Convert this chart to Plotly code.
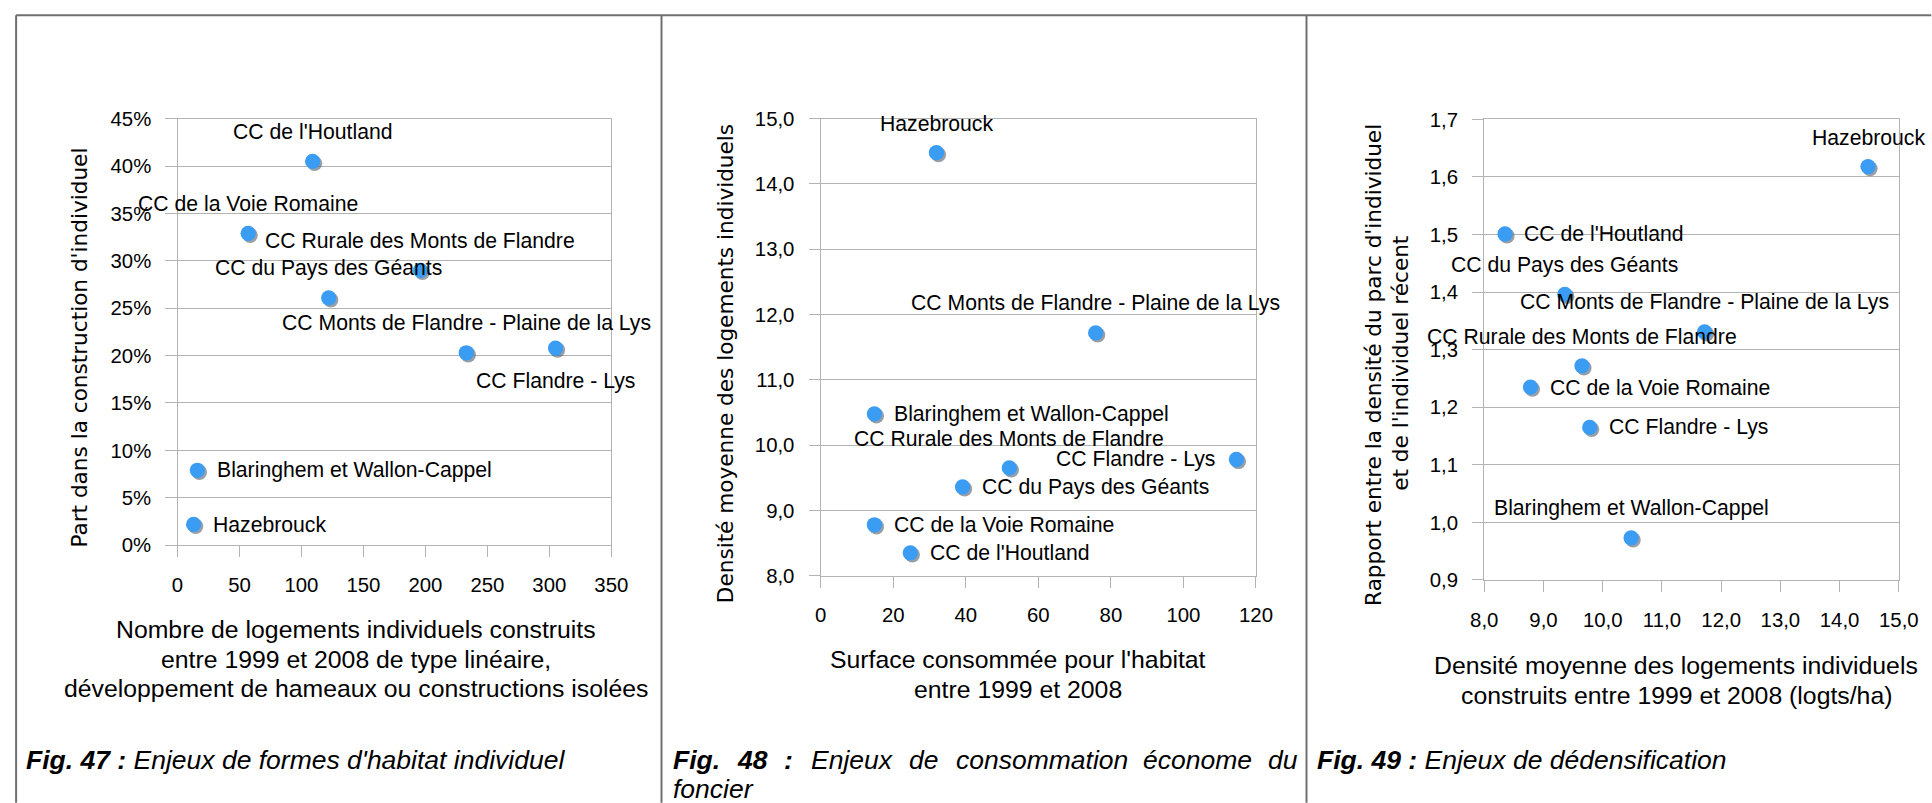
import plotly.graph_objects as go

# Target picture size, the screen scale observed on the page, body margin
PIC_W, PIC_H = 1932, 803
SX, SY = 0.986, 0.977
BODY = 8
DOC_W, DOC_H = round(PIC_W / SX), round(PIC_H / SY)
W, H = DOC_W - 2 * BODY, DOC_H - 2 * BODY
S = (SX + SY) / 2

# Territoires (même ordre dans les trois graphiques)
territoires = [
    "Hazebrouck",
    "CC Monts de Flandre - Plaine de la Lys",
    "Blaringhem et Wallon-Cappel",
    "CC Rurale des Monts de Flandre",
    "CC Flandre - Lys",
    "CC du Pays des Géants",
    "CC de la Voie Romaine",
    "CC de l'Houtland",
]

# Fig. 47
logements_lineaires = [13, 233, 16, 196, 305, 122, 57, 109]
part_individuel = [0.022, 0.203, 0.079, 0.290, 0.208, 0.261, 0.329, 0.405]

# Fig. 48
surface_habitat = [31.9, 75.8, 14.8, 52.0, 114.6, 39.1, 14.8, 24.7]
densite_individuel = [14.48, 11.72, 10.48, 9.65, 9.78, 9.36, 8.78, 8.35]

# Fig. 49
rapport_densite = [1.618, 1.331, 0.973, 1.272, 1.165, 1.396, 1.235, 1.501]

# placement des étiquettes
place_47 = ["right", "above", "right", "above", "below", "above", "above", "above"]
place_48 = ["above", "above", "right", "above", "left", "right", "right", "right"]
place_49 = ["above", "above", "above", "above", "right", "above", "right", "right"]

FONT = "Liberation Sans"
GRID = "#b3b3b3"
BLUE = "#3a9cf2"
FRAME = "#707070"


def fx(px):
    """picture pixel -> paper fraction (x)"""
    return (px / SX - BODY) / W


def fy(py):
    """picture pixel -> paper fraction (y)"""
    return 1 - (py / SY - BODY) / H


def sz(v):
    """picture pixel size -> css pixel size"""
    return v / S


panels = [
    dict(x=logements_lineaires, y=part_individuel, place=place_47,
         xr=[0, 350], yr=[0, 0.45], xd=50, yd=0.05, xf=".0f", yf=".0%",
         px=(172, 607.3), py=(116, 544.3)),
    dict(x=surface_habitat, y=densite_individuel, place=place_48,
         xr=[0, 120], yr=[8, 15], xd=20, yd=1, xf=".0f", yf=".1f",
         px=(817.5, 1254.3), py=(116, 575)),
    dict(x=densite_individuel, y=rapport_densite, place=place_49,
         xr=[8, 15], yr=[0.9, 1.7], xd=1, yd=0.1, xf=".1f", yf=".1f",
         px=(1483.4, 1899.4), py=(116.7, 579.3)),
]

fig = go.Figure()
annotations = []
layout_axes = {}

for i, p in enumerate(panels, start=1):
    sfx = "" if i == 1 else str(i)
    xa, ya = "x" + sfx, "y" + sfx
    # léger ombrage sous les points (2 px vers le bas à droite)
    dx = 2.0 * (p["xr"][1] - p["xr"][0]) / (p["px"][1] - p["px"][0])
    dy = 2.0 * (p["yr"][1] - p["yr"][0]) / (p["py"][1] - p["py"][0])
    fig.add_trace(go.Scatter(
        x=[v + dx for v in p["x"]], y=[v - dy for v in p["y"]],
        mode="markers", xaxis=xa, yaxis=ya, cliponaxis=False,
        marker=dict(size=sz(15), color="rgba(70,80,95,0.55)"),
        hoverinfo="skip", showlegend=False))
    fig.add_trace(go.Scatter(
        x=p["x"], y=p["y"], text=territoires, mode="markers",
        xaxis=xa, yaxis=ya, cliponaxis=False,
        marker=dict(size=sz(15), color=BLUE), showlegend=False))

    common = dict(showline=True, linecolor=GRID, linewidth=1, mirror=True,
                  ticks="outside", ticklen=sz(11), tickcolor=GRID, tickwidth=1,
                  tickfont=dict(family=FONT, size=sz(20), color="#000"),
                  zeroline=False)
    layout_axes["xaxis" + sfx] = dict(
        common, domain=[fx(p["px"][0]), fx(p["px"][1])], range=p["xr"],
        dtick=p["xd"], tick0=p["xr"][0], tickformat=p["xf"], showgrid=False,
        anchor=ya, ticklabelstandoff=10)
    layout_axes["yaxis" + sfx] = dict(
        common, domain=[fy(p["py"][1]), fy(p["py"][0])], range=p["yr"],
        dtick=p["yd"], tick0=p["yr"][0], tickformat=p["yf"], showgrid=True,
        gridcolor=GRID, gridwidth=1, anchor=xa, ticklabelstandoff=10)

    for name, xv, yv, where in zip(territoires, p["x"], p["y"], p["place"]):
        a = dict(x=xv, y=yv, xref=xa, yref=ya, text=name, showarrow=False,
                 font=dict(family=FONT, size=21.2, color="#000"),
                 xanchor="center", yanchor="middle")
        if where == "above":
            a["yshift"] = sz(29)
        elif where == "below":
            a["yshift"] = -sz(32)
        elif where == "right":
            a.update(xanchor="left", xshift=sz(17))
        else:
            a.update(xanchor="right", xshift=-sz(19))
        annotations.append(a)

# Titres des axes
YT = dict(family="DejaVu Sans", size=21.6, color="#000")
XT = dict(family=FONT, size=24.8, color="#000")


def note(text, px, py, font, angle=0, anchor="center"):
    annotations.append(dict(
        x=fx(px), y=fy(py), xref="paper", yref="paper", text=text,
        showarrow=False, font=font, textangle=angle, xanchor=anchor,
        yanchor="middle"))


note("Part dans la construction d'individuel", 74, 346, YT, -90)
note("Densité moyenne des logements individuels", 722, 362, YT, -90)
note("Rapport entre la densité du parc d'individuel", 1372, 363, YT, -90)
note("et de l'individuel récent", 1399, 362, YT, -90)

note("Nombre de logements individuels construits", 351, 629, XT)
note("entre 1999 et 2008 de type linéaire,", 351, 659, XT)
note("développement de hameaux ou constructions isolées", 351, 688, XT)
note("Surface consommée pour l'habitat", 1015, 659, XT)
note("entre 1999 et 2008", 1015, 689, XT)
note("Densité moyenne des logements individuels", 1676, 665, XT)
note("construits entre 1999 et 2008 (logts/ha)", 1676, 695, XT)

# Légendes des figures
CAP = dict(family=FONT, size=26.5, color="#000")
note("<b><i>Fig. 47 :</i></b><i> Enjeux de formes d'habitat individuel</i>",
     18, 760, CAP, anchor="left")
note("<b><i>Fig. 49 :</i></b><i> Enjeux de dédensification</i>",
     1314, 760, CAP, anchor="left")
# Fig. 48 : première ligne justifiée sur la largeur de la colonne
mots_48 = [("<b><i>Fig.</i></b>", 667), ("<b><i>48</i></b>", 731.6),
           ("<b><i>:</i></b>", 778.9), ("<i>Enjeux</i>", 806.0),
           ("<i>de</i>", 903.9), ("<i>consommation</i>", 951.2),
           ("<i>économe</i>", 1138.7), ("<i>du</i>", 1264.0)]
for mot, x0 in mots_48:
    note(mot, x0, 760, CAP, anchor="left")
note("<i>foncier</i>", 667, 789, CAP, anchor="left")

# Cadre du tableau
shapes = []
for x0, y0, x1, y1 in [(10, 12, PIC_W, 12), (10, 12, 10, PIC_H),
                       (657.7, 12, 657.7, PIC_H), (1305, 12, 1305, PIC_H)]:
    shapes.append(dict(type="line", xref="paper", yref="paper",
                       x0=fx(x0), y0=fy(y0), x1=fx(x1), y1=fy(y1),
                       line=dict(color=FRAME, width=2)))

fig.update_layout(
    width=W, height=H, margin=dict(l=0, r=0, t=0, b=0),
    paper_bgcolor="white", plot_bgcolor="white",
    separators=", ", showlegend=False,
    annotations=annotations, shapes=shapes, **layout_axes)

fig.write_html("out.html")
